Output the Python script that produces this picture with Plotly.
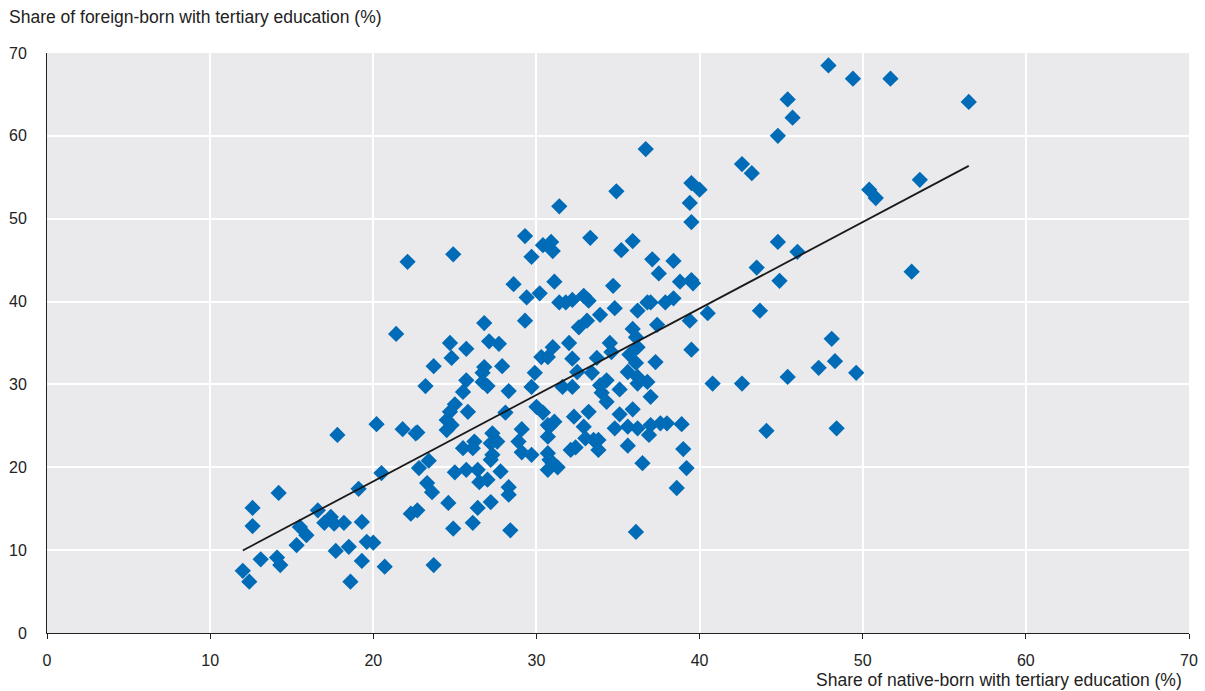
import numpy as np
import plotly.graph_objects as go

# Share of native-born (x) and foreign-born (y) with tertiary education, %
native_born = [
    12.0, 12.4, 12.6, 12.6, 13.1, 14.1, 14.3, 14.2, 15.3, 15.5,
    15.9, 16.6, 17.4, 17.0, 17.6, 18.2, 17.7, 18.5, 17.8, 18.6,
    19.1, 19.3, 19.3, 19.6, 20.0, 20.2, 20.5, 20.7, 21.4, 21.8,
    22.1, 22.3, 22.7, 22.6, 22.7, 22.8, 23.4, 23.3, 23.6, 23.2,
    23.7, 23.7, 24.6, 24.9, 26.1, 26.4, 25.0, 25.7, 26.4, 27.8,
    26.5, 27.0, 27.2, 28.3, 28.3, 28.4, 24.9, 24.7, 24.8, 25.7,
    26.8, 27.1, 27.7, 26.8, 26.7, 27.9, 25.7, 25.5, 26.7, 27.0,
    28.3, 29.7, 29.9, 30.3, 30.7, 31.0, 32.0, 32.2, 32.5, 31.6,
    32.2, 28.6, 29.4, 30.2, 31.1, 29.3, 29.3, 30.4, 30.9, 31.0,
    29.7, 31.4, 33.3, 35.9, 35.2, 34.9, 36.7, 39.5, 40.0, 39.4,
    39.5, 31.4, 31.8, 32.2, 32.9, 33.2, 33.9, 34.8, 34.7, 32.6,
    33.1, 35.9, 36.1, 36.2, 36.8, 37.0, 37.9, 38.4, 37.1, 38.4,
    37.5, 38.8, 39.5, 39.6, 37.4, 39.4, 40.5, 39.5, 34.5, 34.6,
    36.2, 35.7, 33.7, 37.3, 36.1, 33.4, 35.6, 36.2, 36.8, 36.2,
    34.3, 33.9, 34.0, 35.1, 37.0, 34.3, 35.9, 35.1, 33.2, 32.3,
    31.1, 30.8, 32.9, 33.0, 33.5, 33.8, 34.8, 35.6, 36.2, 37.0,
    37.6, 38.0, 36.9, 38.9, 35.6, 33.8, 32.1, 32.4, 39.0, 36.5,
    31.0, 31.3, 39.2, 38.6, 36.1, 30.7, 30.8, 30.7, 30.7, 30.7,
    29.1, 28.9, 29.1, 29.7, 30.0, 30.4, 28.1, 25.8, 25.0, 24.7,
    24.5, 24.8, 24.5, 27.3, 27.6, 27.2, 26.2, 25.5, 26.1, 27.3,
    27.2, 40.8, 42.6, 44.1, 45.4, 47.3, 48.1, 48.3, 49.6, 48.4,
    43.7, 43.5, 44.9, 46.0, 44.8, 53.0, 47.9, 49.4, 51.7, 45.4,
    45.7, 56.5, 44.8, 42.6, 43.2, 50.4, 50.8, 53.5,
]
foreign_born = [
    7.5, 6.2, 15.1, 12.9, 8.9, 9.1, 8.2, 16.9, 10.6, 12.8,
    11.8, 14.8, 14.0, 13.3, 13.2, 13.3, 9.9, 10.4, 23.9, 6.2,
    17.4, 13.4, 8.7, 11.0, 10.9, 25.2, 19.3, 8.0, 36.1, 24.6,
    44.8, 14.4, 14.8, 24.1, 24.2, 19.9, 20.8, 18.1, 17.0, 29.8,
    32.2, 8.2, 15.7, 12.6, 13.3, 15.1, 19.4, 19.7, 19.7, 19.5,
    18.2, 18.5, 15.8, 17.6, 16.7, 12.4, 45.7, 35.0, 33.2, 34.3,
    37.4, 35.2, 34.9, 32.1, 31.4, 32.2, 30.5, 29.1, 30.3, 29.8,
    29.2, 29.7, 31.4, 33.3, 33.3, 34.5, 35.0, 33.1, 31.5, 29.7,
    29.7, 42.1, 40.5, 41.0, 42.4, 37.7, 47.9, 46.8, 47.2, 46.1,
    45.4, 51.5, 47.7, 47.3, 46.2, 53.3, 58.4, 54.3, 53.5, 51.9,
    49.6, 39.9, 39.9, 40.2, 40.7, 40.1, 38.4, 39.2, 41.9, 36.9,
    37.7, 36.7, 35.7, 38.9, 39.9, 39.9, 39.9, 40.4, 45.1, 44.9,
    43.4, 42.4, 42.6, 42.2, 37.2, 37.7, 38.6, 34.2, 35.0, 33.9,
    34.5, 33.6, 33.2, 32.7, 32.6, 31.4, 31.5, 30.9, 30.3, 30.1,
    30.5, 29.9, 29.0, 29.4, 28.5, 27.9, 27.0, 26.4, 26.7, 26.1,
    25.5, 24.9, 24.9, 23.5, 23.3, 23.3, 24.7, 24.9, 24.7, 25.1,
    25.3, 25.3, 23.9, 25.2, 22.6, 22.1, 22.1, 22.4, 22.2, 20.5,
    20.5, 20.0, 19.9, 17.5, 12.2, 21.7, 20.9, 19.7, 25.1, 23.7,
    24.6, 23.1, 21.8, 21.5, 27.3, 26.6, 26.6, 26.7, 27.6, 26.7,
    25.7, 25.1, 24.5, 24.1, 23.1, 22.9, 23.1, 22.3, 22.3, 21.5,
    20.9, 30.1, 30.1, 24.4, 30.9, 32.0, 35.5, 32.8, 31.4, 24.7,
    38.9, 44.1, 42.5, 46.0, 47.2, 43.6, 68.5, 66.9, 66.9, 64.4,
    62.2, 64.1, 60.0, 56.6, 55.5, 53.5, 52.5, 54.7,
]

axis_ticks = [0, 10, 20, 30, 40, 50, 60, 70]
y_title = "Share of foreign-born with tertiary education (%)"
x_title = "Share of native-born with tertiary education (%)"

x = np.array(native_born)
y = np.array(foreign_born)

# Least-squares trend line across the observed range
slope, intercept = np.polyfit(x, y, 1)
line_x = np.array([x.min(), x.max()])
line_y = slope * line_x + intercept

FONT = "Liberation Sans, Arial, Helvetica, sans-serif"

fig = go.Figure()
fig.add_trace(go.Scatter(
    x=x, y=y, mode="markers",
    marker=dict(symbol="diamond", size=12.5, color="#006BB6", line=dict(width=0)),
    showlegend=False, hoverinfo="x+y",
))
fig.add_trace(go.Scatter(
    x=line_x, y=line_y, mode="lines",
    line=dict(color="#1a1a1a", width=1.8),
    showlegend=False, hoverinfo="skip",
))

fig.update_layout(
    width=1205, height=691,
    margin=dict(l=47, r=16, t=53, b=58),
    paper_bgcolor="white",
    plot_bgcolor="#EAEAED",
    font=dict(family=FONT, size=16, color="#222222"),
    xaxis=dict(
        range=[0, 70], tickvals=axis_ticks, ticktext=[str(t) for t in axis_ticks],
        showgrid=True, gridcolor="white", gridwidth=2,
        showline=True, linecolor="#222222", linewidth=1,
        ticks="outside", ticklen=5, tickcolor="#222222",
        ticklabelstandoff=8, automargin=False,
        zeroline=False, tickfont=dict(size=16),
    ),
    yaxis=dict(
        range=[0, 70], tickvals=axis_ticks, ticktext=[str(t) for t in axis_ticks],
        showgrid=True, gridcolor="white", gridwidth=2,
        showline=True, linecolor="#222222", linewidth=1,
        ticklabelstandoff=16, automargin=False,
        zeroline=False, tickfont=dict(size=16),
    ),
    annotations=[
        dict(text=y_title, xref="paper", yref="paper", x=0, y=1,
             xanchor="left", yanchor="middle", xshift=-40, yshift=36,
             showarrow=False, font=dict(size=17.5)),
        dict(text=x_title, xref="paper", yref="paper", x=1, y=0,
             xanchor="right", yanchor="middle", xshift=-5, yshift=-47,
             showarrow=False, font=dict(size=17.5)),
    ],
)

fig.write_html("out.html")
